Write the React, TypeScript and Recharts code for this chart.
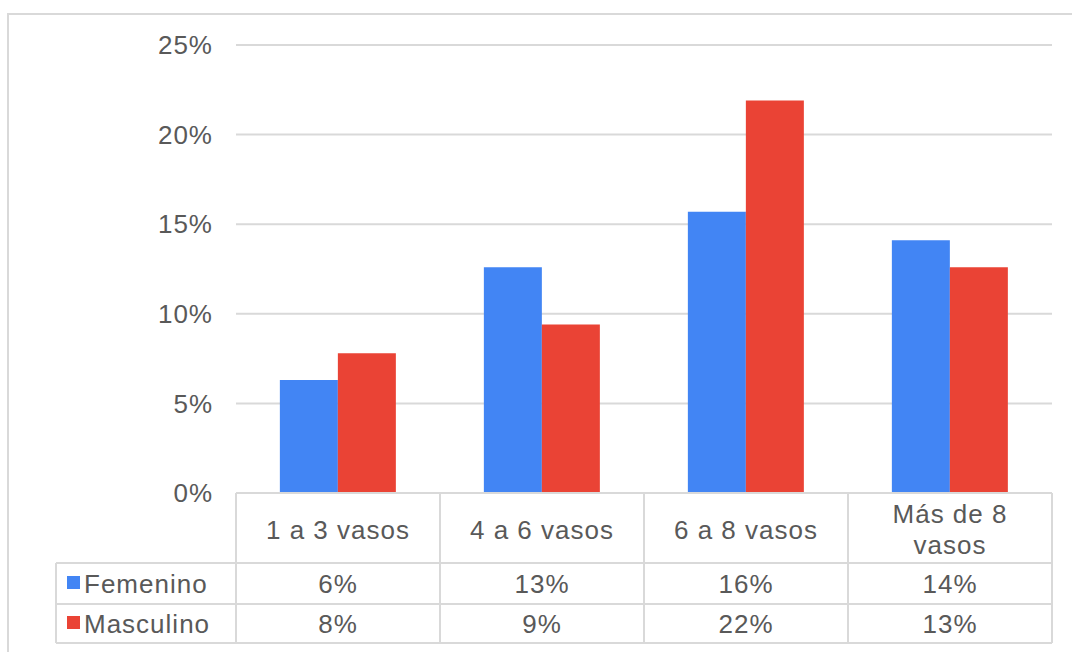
import { BarChart, Bar, XAxis, YAxis, CartesianGrid } from 'recharts';

const categories = ['1 a 3 vasos', '4 a 6 vasos', '6 a 8 vasos', 'Más de 8 vasos'];
const femenino = [6.3, 12.6, 15.7, 14.1];
const masculino = [7.8, 9.4, 21.9, 12.6];
const yTicks = [0, 5, 10, 15, 20, 25];

const series = [
  { key: 'femenino', label: 'Femenino', color: '#4285F4', values: femenino },
  { key: 'masculino', label: 'Masculino', color: '#EA4335', values: masculino },
];

const data = categories.map((c, i) => ({ name: c, femenino: femenino[i], masculino: masculino[i] }));

const W = 1072;
const H = 652;
const LEFT = 236;
const RIGHT = 20;
const CELL_W = (W - LEFT - RIGHT) / categories.length;
const LINE = '#D9D9D9';
const TEXT = '#595959';
const FONT = '"Liberation Sans", Arial, sans-serif';
const textStyle = { fontSize: 26, fill: TEXT, fontFamily: FONT, letterSpacing: 1 };

function splitLabel(label: string): string[] {
  // Excel wraps the long label in two lines
  if (label === 'Más de 8 vasos') return ['Más de 8', 'vasos'];
  return [label];
}

function TableTick(props: any) {
  const { x, y, payload } = props;
  const i = payload.index;
  const left = x - CELL_W / 2;
  const right = x + CELL_W / 2;
  const lines = splitLabel(payload.value);
  return (
    <g>
      {i === 0 && (
        <g>
          <line x1={left} y1={y} x2={left} y2={y + 150} stroke={LINE} strokeWidth={2} />
          <line x1={56} y1={y + 70} x2={left} y2={y + 70} stroke={LINE} strokeWidth={2} />
          <line x1={56} y1={y + 111} x2={left} y2={y + 111} stroke={LINE} strokeWidth={2} />
          <line x1={56} y1={y + 150} x2={left} y2={y + 150} stroke={LINE} strokeWidth={2} />
          <line x1={56} y1={y + 70} x2={56} y2={y + 150} stroke={LINE} strokeWidth={2} />
          {series.map((s, k) => (
            <g key={s.key}>
              <rect x={67} y={y + 83 + k * 40} width={13} height={13} fill={s.color} />
              <text x={84} y={y + 100 + k * 40} {...textStyle}>
                {s.label}
              </text>
            </g>
          ))}
        </g>
      )}
      <line x1={right} y1={y} x2={right} y2={y + 150} stroke={LINE} strokeWidth={2} />
      <line x1={left} y1={y + 70} x2={right} y2={y + 70} stroke={LINE} strokeWidth={2} />
      <line x1={left} y1={y + 111} x2={right} y2={y + 111} stroke={LINE} strokeWidth={2} />
      <line x1={left} y1={y + 150} x2={right} y2={y + 150} stroke={LINE} strokeWidth={2} />
      {lines.length === 1 ? (
        <text x={x} y={y + 46} textAnchor="middle" {...textStyle}>
          {lines[0]}
        </text>
      ) : (
        lines.map((l, k) => (
          <text key={k} x={x} y={y + 30 + k * 31} textAnchor="middle" {...textStyle}>
            {l}
          </text>
        ))
      )}
      {series.map((s, k) => (
        <text key={s.key} x={x} y={y + 100 + k * 40} textAnchor="middle" {...textStyle}>
          {`${Math.round(s.values[i])}%`}
        </text>
      ))}
    </g>
  );
}

export default function App() {
  return (
    <div style={{ position: 'absolute', left: 0, top: 0, width: W, height: H, overflow: 'hidden', background: '#fff' }}>
      <div
        style={{
          position: 'absolute',
          left: 7,
          top: 13,
          width: W + 40,
          height: H + 40,
          border: `2px solid ${LINE}`,
        }}
      />
      <div style={{ position: 'absolute', left: 0, top: 0 }}>
        <BarChart
          width={W}
          height={H}
          data={data}
          margin={{ top: 45, right: RIGHT, bottom: 0, left: 0 }}
          barCategoryGap="21.5%"
          barGap={0}
        >
          <CartesianGrid horizontal vertical={false} stroke={LINE} strokeWidth={2} />
          <YAxis
            width={LEFT}
            domain={[0, 25]}
            ticks={yTicks}
            interval={0}
            axisLine={false}
            tickLine={false}
            tickMargin={17}
            tickFormatter={(v: number) => `${v}%`}
            tick={textStyle}
          />
          <XAxis
            dataKey="name"
            height={H - 493}
            interval={0}
            tickSize={0}
            tickMargin={0}
            tickLine={false}
            axisLine={{ stroke: LINE, strokeWidth: 2 }}
            tick={<TableTick />}
          />
          {series.map((s) => (
            <Bar key={s.key} dataKey={s.key} fill={s.color} isAnimationActive={false} />
          ))}
        </BarChart>
      </div>
    </div>
  );
}
